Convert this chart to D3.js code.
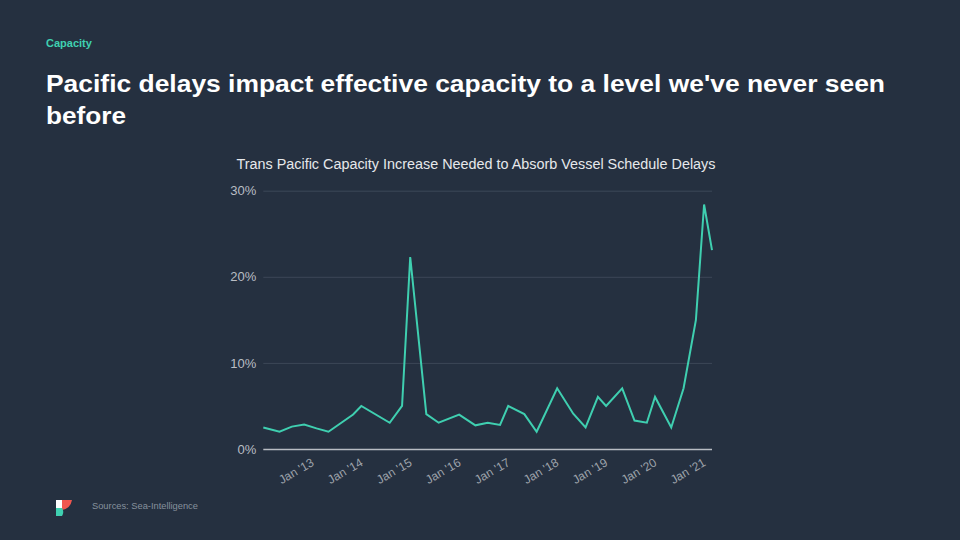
<!DOCTYPE html>
<html>
<head>
<meta charset="utf-8">
<script src="https://cdn.jsdelivr.net/npm/d3@7"></script>
<style>
  html, body { margin: 0; padding: 0; background: #253040; }
  svg { display: block; }
  text { font-family: "Liberation Sans", Arial, Helvetica, sans-serif; }
</style>
</head>
<body>
<svg id="chart" width="960" height="540"></svg>
<script>
// ---- data ----
const dates = ["2012-01","2012-05","2012-08","2012-11","2013-02","2013-05","2013-11","2014-01",
  "2014-08","2014-11","2015-01","2015-05","2015-08","2016-01","2016-05","2016-08","2016-11",
  "2017-01","2017-05","2017-08","2018-01","2018-05","2018-08","2018-11","2019-01","2019-05",
  "2019-08","2019-11","2020-01","2020-05","2020-08","2020-11","2021-01","2021-03"];
const values = [2.5,2.0,2.6,2.85,2.4,2.0,4.0,5.0,
  3.05,5.0,22.3,4.05,3.05,4.0,2.75,3.05,2.8,
  5.0,4.05,2.0,7.05,4.1,2.5,6.05,5.0,7.05,
  3.3,3.05,6.05,2.5,7.05,15.0,28.4,23.1];
const yTicks = [0, 10, 20, 30];
const xTickDates = ["2013-01","2014-01","2015-01","2016-01","2017-01","2018-01","2019-01","2020-01","2021-01"];
const xTickLabels = ["Jan '13","Jan '14","Jan '15","Jan '16","Jan '17","Jan '18","Jan '19","Jan '20","Jan '21"];

const kicker = "Capacity";
const titleLines = ["Pacific delays impact effective capacity to a level we've never seen", "before"];
const chartTitle = "Trans Pacific Capacity Increase Needed to Absorb Vessel Schedule Delays";
const sourceText = "Sources: Sea-Intelligence";

// ---- setup ----
const parse = d3.timeParse("%Y-%m");
const data = dates.map((d, i) => ({ date: parse(d), value: values[i] }));
const svg = d3.select("#chart");

svg.append("rect").attr("width", 960).attr("height", 540).attr("fill", "#253040");

const plotL = 263.3, plotR = 712, plotT = 190.7, plotB = 449;
const x = d3.scaleTime().domain(d3.extent(data, d => d.date)).range([plotL, plotR]);
const y = d3.scaleLinear().domain([0, 30]).range([plotB, plotT]);

// header
svg.append("text").attr("x", 46).attr("y", 46.5)
  .attr("fill", "#3fd0b1").attr("font-size", 11).attr("font-weight", "bold").text(kicker);
const titleWidths = [839, 80];
titleLines.forEach((t, i) => {
  svg.append("text").attr("x", 46).attr("y", 92 + i * 32)
    .attr("fill", "#ffffff").attr("font-size", 23).attr("font-weight", "bold")
    .attr("textLength", titleWidths[i]).attr("lengthAdjust", "spacingAndGlyphs")
    .text(t);
});

// chart title
svg.append("text").attr("x", 476).attr("y", 169)
  .attr("text-anchor", "middle").attr("fill", "#e6e8eb").attr("font-size", 14)
  .attr("textLength", 479).attr("lengthAdjust", "spacingAndGlyphs")
  .text(chartTitle);

// y axis + grid
const yAxis = svg.append("g").attr("transform", `translate(${plotL},0)`)
  .call(d3.axisLeft(y).tickValues(yTicks).tickSize(-(plotR - plotL)).tickPadding(7)
    .tickFormat(d => d + "%"));
yAxis.select(".domain").remove();
yAxis.selectAll(".tick line")
  .attr("stroke", d => d === 0 ? "#b8bcc3" : "#3c4757")
  .attr("stroke-width", d => d === 0 ? 1.6 : 1);
yAxis.selectAll(".tick text").attr("fill", "#b9bdc4").attr("font-size", 13)
  .style("font-family", '"Liberation Sans", Arial, sans-serif');

// x axis
const xAxis = svg.append("g").attr("transform", `translate(0,${plotB})`)
  .call(d3.axisBottom(x).tickValues(xTickDates.map(parse)).tickSize(0)
    .tickFormat((d, i) => xTickLabels[i]));
xAxis.select(".domain").remove();
xAxis.selectAll(".tick text")
  .attr("fill", "#9ea3ab").attr("font-size", 12)
  .style("font-family", '"Liberation Sans", Arial, sans-serif')
  .attr("text-anchor", "end")
  .attr("dy", null).attr("y", null)
  .attr("transform", "translate(2,16) rotate(-30)");

// line
svg.append("path").datum(data)
  .attr("fill", "none").attr("stroke", "#3fcfb0").attr("stroke-width", 2)
  .attr("stroke-linejoin", "miter")
  .attr("d", d3.line().x(d => x(d.date)).y(d => y(d.value)));

// footer logo
const logo = svg.append("g");
logo.append("rect").attr("x", 56).attr("y", 500).attr("width", 6).attr("height", 8).attr("fill", "#ffffff");
logo.append("path").attr("d", "M62,500 L72,500 Q70.5,508.5 62,510 Z").attr("fill", "#f0564f");
logo.append("path").attr("d", "M56,508 L62,508 Q64.5,512 62,516 L56,516 Z").attr("fill", "#3fd0b1");

svg.append("text").attr("x", 92).attr("y", 508.5)
  .attr("fill", "#86909d").attr("font-size", 9.3).text(sourceText);
</script>
</body>
</html>
